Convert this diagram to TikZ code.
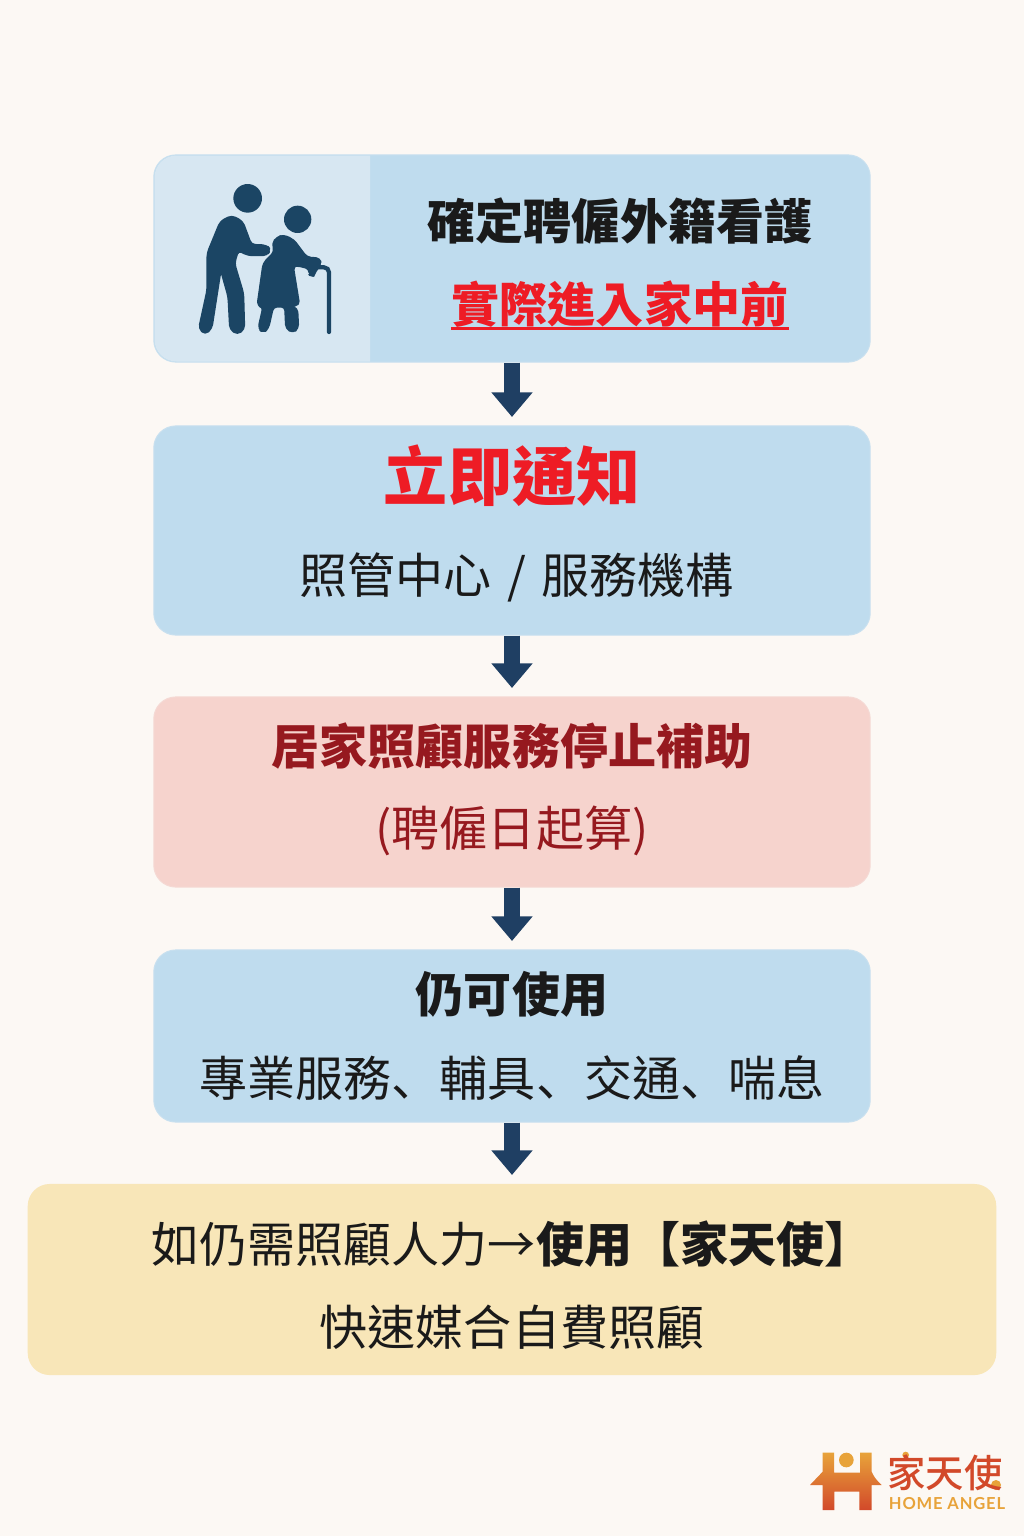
\documentclass[tikz,border=0pt]{standalone}
\usepackage{fontspec}
\usepackage{xcolor}
\usetikzlibrary{arrows.meta,positioning}
\setmainfont{Noto Sans CJK TC}
\newfontfamily\punctfont{Noto Sans CJK SC}
\newfontfamily\logofont{Noto Sans CJK TC Medium}
\newfontfamily\latinfont[LetterSpace=5]{Lato}
\definecolor{pagebg}{HTML}{FCF8F4}
\definecolor{boxblue}{HTML}{BFDCEE}
\definecolor{boxedge}{HTML}{C8E0EF}
\definecolor{panelblue}{HTML}{D7E7F2}
\definecolor{boxred}{HTML}{F6D3CD}
\definecolor{boxrededge}{HTML}{F5D9D4}
\definecolor{boxyellow}{HTML}{F8E6B8}
\definecolor{arrowblue}{HTML}{1F3F63}
\definecolor{iconblue}{HTML}{1B4564}
\definecolor{alertred}{HTML}{EE1C25}
\definecolor{darkred}{HTML}{96191F}
\definecolor{inkblack}{HTML}{1A1A1A}
\definecolor{logored}{HTML}{D2492A}
\definecolor{logogold}{HTML}{E8A33A}
\newcommand{\linefont}{\fontsize{13.66}{16}\selectfont}
\newcommand{\bigfont}{\fontsize{18.2}{21}\selectfont}
\tikzset{
  flowbox/.style={rounded corners=0.22cm,minimum width=7.16cm,fill=boxblue,draw=boxedge,line width=0.3pt},
  textline/.style={inner sep=0pt,text=inkblack,font=\linefont},
  flowarrow/.style={draw=arrowblue,line width=4.5pt,-{Triangle[length=7pt,width=11.3pt,color=arrowblue]},shorten >=2.4pt},
  iconpart/.style={fill=iconblue,draw=iconblue,line width=0.7pt,line join=round,rounded corners=0.04cm}
}
\begin{document}
\begin{tikzpicture}[x=0.01cm,y=-0.01cm]
\useasboundingbox (0,0) rectangle (1024,1536);
\fill[pagebg] (0,0) rectangle (1024,1536);
% boxes
\node[flowbox,minimum height=2.07cm] (confirm) at (512,258.5) {};
\node[flowbox,minimum height=2.09cm] (inform) at (512,530.5) {};
\node[flowbox,minimum height=1.90cm,fill=boxred,draw=boxrededge] (stop) at (512,792) {};
\node[flowbox,minimum height=1.72cm] (still) at (512,1036) {};
\node[flowbox,minimum height=1.91cm,minimum width=9.68cm,fill=boxyellow,draw=none] (angel) at (512,1279.5) {};
% icon panel
\fill[panelblue,rounded corners=0.22cm] (370,155.5) -- (154.5,155.5) -- (154.5,361.5) [sharp corners] -- (370,361.5) -- cycle;
\begin{scope}[shift={(150,150)},xscale=1/3,yscale=1/3]
\fill[iconblue] (293,145) circle (43);
\fill[iconblue] (443,208) circle (41);
\draw[iconblue,line width=1.2pt,line cap=round,rounded corners=0.05cm] (505,352) -- (537,352) -- (537,546);
\filldraw[iconpart] (245,198) -- (277,215) -- (303,285) -- (350,287) -- (360,300) -- (350,315) -- (295,315) -- (264,300) -- (252,340) -- (279,430) -- (282,537) -- (262,552) -- (241,537) -- (236,440) -- (212,355) -- (184,535) -- (165,552) -- (148,535) -- (173,420) -- (173,310) -- (212,215) -- cycle;
\filldraw[iconpart] (400,256) -- (430,270) -- (470,323) -- (510,326) -- (511,345) -- (495,363) -- (490,377) -- (479,374) -- (479,355) -- (440,345) -- (428,348) -- (447,465) -- (414,467) -- (441,475) -- (444,535) -- (428,547) -- (409,535) -- (406,469) -- (369,469) -- (354,535) -- (340,547) -- (326,535) -- (341,469) -- (323,467) -- (341,340) -- (375,305) -- (368,280) -- (381,263) -- cycle;
\end{scope}
% labels
\node[textline,font=\linefont\bfseries] (hire) at (620,221) {確定聘僱外籍看護};
\node[textline,font=\linefont\bfseries,text=alertred] (before) at (620,304) {實際進入家中前};
\draw[alertred,line width=0.85pt,yshift=-0.03cm] (before.south west) -- (before.south east);
\node[textline,font=\bigfont\bfseries,text=alertred] (now) at (512,476) {立即通知};
\node[textline] (center) at (516.5,577) {照管中心\hspace{1.4pt} / \hspace{1.4pt}服務機構};
\node[textline,font=\linefont\bfseries,text=darkred] (subsidy) at (512,746) {居家照顧服務停止補助};
\node[textline,text=darkred] (date) at (512,831) {(聘僱日起算)};
\node[textline,font=\linefont\bfseries] (usable) at (512,994) {仍可使用};
\node[textline] (service) at (512,1078) {專業服務{\punctfont 、}輔具{\punctfont 、}交通{\punctfont 、}喘息};
\node[textline] (need) at (512,1244) {如仍需照顧人力→\textbf{使用【家天使】}};
\node[textline] (match) at (512,1327) {快速媒合自費照顧};
% arrows
\draw[flowarrow] (confirm) -- (inform);
\draw[flowarrow] (inform) -- (stop);
\draw[flowarrow] (stop) -- (still);
\draw[flowarrow] (still) -- (angel);
% logo
\begin{scope}[shift={(800,1440)},xscale=1/3,yscale=1/3]
\shade[top color=logogold,bottom color=logored] (68,38) -- (102,38) -- (102,98) -- (180,98) -- (180,38) -- (215,38) -- (215,95) .. controls (225,115) .. (245,135) -- (215,135) -- (215,210) -- (178,210) -- (178,155) -- (103,155) -- (103,210) -- (68,210) -- (68,135) -- (30,135) .. controls (50,115) .. (68,95) -- cycle;
\fill[logogold] (139,60) circle (22);
\fill[logogold] (317,45) circle (10);
\fill[logogold] (588,135) circle (15);
\end{scope}
\node[inner sep=0pt,text=logored,font=\fontsize{10.9}{12}\selectfont\logofont] (brand) at (945,1473) {家天使};
\node[inner sep=0pt,text=logogold,font=\fontsize{4.7}{6}\selectfont\latinfont\bfseries] (brandlatin) at (947,1504) {HOME ANGEL};
\end{tikzpicture}
\end{document}
